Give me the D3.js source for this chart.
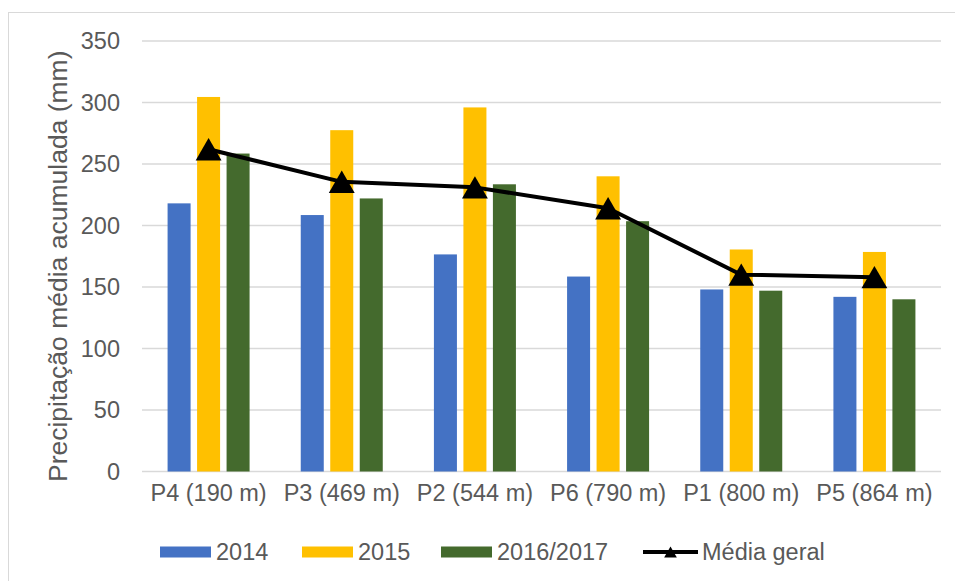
<!DOCTYPE html>
<html>
<head>
  <meta charset="utf-8">
  <title>Precipitação média acumulada</title>
  <script src="https://d3js.org/d3.v7.min.js"></script>
  <style>
    body { margin: 0; background: #fff; }
    text { font-family: "Liberation Sans", Arial, sans-serif; fill: #595959; }
  </style>
</head>
<body>
<script>
  // Data
  var stations = ["P4 (190 m)", "P3 (469 m)", "P2 (544 m)", "P6 (790 m)", "P1 (800 m)", "P5 (864 m)"];
  var seriesNames = ["2014", "2015", "2016/2017"];
  var values2014 = [218, 208.5, 176.5, 158.5, 148, 142];
  var values2015 = [304.5, 277.5, 296, 240, 180.5, 178.5];
  var values2016 = [258.5, 222, 233.5, 203.5, 147, 140];
  var mediaGeral = [262, 235.5, 231, 214, 160, 158];
  var yTicks = [0, 50, 100, 150, 200, 250, 300, 350];
  var colors = ["#4472C4", "#FFC000", "#446A2D"];

  var width = 955, height = 581;
  var plot = {left: 142, right: 941, top: 41, bottom: 471.5};

  var svg = d3.select("body").append("svg")
      .attr("width", width)
      .attr("height", height);

  // chart border
  svg.append("rect")
      .attr("x", 8.5).attr("y", 12.5)
      .attr("width", 980).attr("height", 620)
      .attr("fill", "none")
      .attr("stroke", "#d9d9d9")
      .attr("stroke-width", 1);

  // Scales
  var x0 = d3.scaleBand().domain(stations).range([plot.left, plot.right]);
  var x1 = d3.scaleBand().domain(seriesNames).range([-41, 41]).paddingInner(0.22);
  var y = d3.scaleLinear().domain([0, 350]).range([plot.bottom, plot.top]);

  // Gridlines
  svg.append("g")
    .selectAll("line")
    .data(yTicks)
    .enter().append("line")
      .attr("x1", plot.left).attr("x2", plot.right)
      .attr("y1", function(d) { return y(d); })
      .attr("y2", function(d) { return y(d); })
      .attr("stroke", "#d9d9d9")
      .attr("stroke-width", 1.3);

  // Y axis labels
  var yAxis = d3.axisLeft(y).tickValues(yTicks).tickSize(0).tickPadding(22);
  var ya = svg.append("g")
      .attr("transform", "translate(" + plot.left + ",0)")
      .call(yAxis);
  ya.select(".domain").remove();
  ya.selectAll("text")
      .style("font-size", "23.5px")
      .attr("fill", "#595959");

  // X axis labels
  var xAxis = d3.axisBottom(x0).tickSize(0).tickPadding(13);
  var xa = svg.append("g")
      .attr("transform", "translate(0," + plot.bottom + ")")
      .call(xAxis);
  xa.select(".domain").remove();
  xa.selectAll("text")
      .style("font-size", "23.5px")
      .attr("fill", "#595959");

  // Y title
  svg.append("text")
      .attr("transform", "translate(67," + ((plot.top + plot.bottom) / 2 + 10) + ") rotate(-90)")
      .attr("text-anchor", "middle")
      .style("font-size", "26.5px")
      .text("Precipitação média acumulada (mm)");

  // Bars
  var allSeries = [values2014, values2015, values2016];
  var groups = svg.append("g").selectAll("g")
      .data(allSeries)
      .enter().append("g")
      .attr("fill", function(d, i) { return colors[i]; });

  groups.each(function(vals, si) {
    d3.select(this).selectAll("rect")
      .data(vals)
      .enter().append("rect")
        .attr("x", function(d, i) { return x0(stations[i]) + x0.bandwidth() / 2 + x1(seriesNames[si]); })
        .attr("width", x1.bandwidth())
        .attr("y", function(d) { return y(d); })
        .attr("height", function(d) { return y(0) - y(d); });
  });

  // Line
  var line = d3.line()
      .x(function(d, i) { return x0(stations[i]) + x0.bandwidth() / 2; })
      .y(function(d) { return y(d); });

  svg.append("path")
      .datum(mediaGeral)
      .attr("d", line)
      .attr("fill", "none")
      .attr("stroke", "#000")
      .attr("stroke-width", 4)
      .attr("stroke-linejoin", "round");

  var tri = d3.symbol().type(d3.symbolTriangle).size(290);
  svg.append("g").selectAll("path")
    .data(mediaGeral)
    .enter().append("path")
      .attr("d", tri)
      .attr("fill", "#000")
      .attr("transform", function(d, i) {
        return "translate(" + (x0(stations[i]) + x0.bandwidth() / 2) + "," + (y(d) + 3.7) + ")";
      });

  // Legend
  var legY = 552;
  var legend = [
    {name: "2014", x: 160, color: colors[0]},
    {name: "2015", x: 302, color: colors[1]},
    {name: "2016/2017", x: 441, color: colors[2]}
  ];
  var lg = svg.append("g");
  legend.forEach(function(l) {
    lg.append("rect")
      .attr("x", l.x).attr("y", legY - 5.5)
      .attr("width", 51).attr("height", 11)
      .attr("fill", l.color);
    lg.append("text")
      .attr("x", l.x + 56).attr("y", legY)
      .attr("dy", "0.35em")
      .style("font-size", "23.5px")
      .text(l.name);
  });
  lg.append("line")
    .attr("x1", 643).attr("x2", 698)
    .attr("y1", legY).attr("y2", legY)
    .attr("stroke", "#000").attr("stroke-width", 4);
  lg.append("path")
    .attr("d", d3.symbol().type(d3.symbolTriangle).size(70))
    .attr("transform", "translate(670.5," + (legY + 1.8) + ")")
    .attr("fill", "#000");
  lg.append("text")
    .attr("x", 702).attr("y", legY)
    .attr("dy", "0.35em")
    .style("font-size", "23.5px")
    .text("Média geral");
</script>
</body>
</html>
